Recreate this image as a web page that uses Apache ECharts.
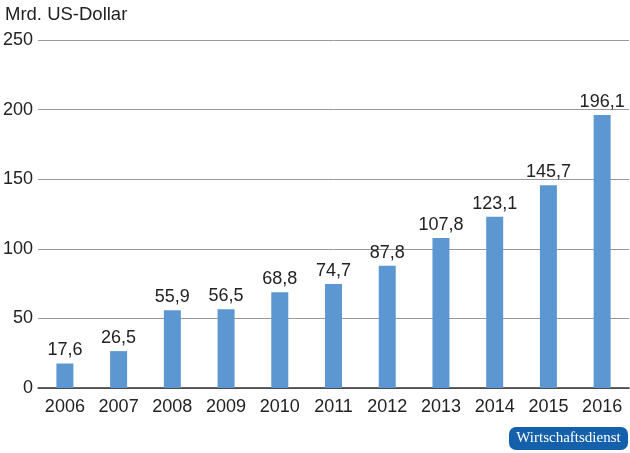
<!DOCTYPE html>
<html><head><meta charset="utf-8">
<script src="https://cdn.jsdelivr.net/npm/echarts@6/dist/echarts.min.js"></script>
<style>html,body{margin:0;padding:0;background:#fff}#c{width:630px;height:453px}</style>
</head><body><div id="c"></div>
<script>
const years = ['2006','2007','2008','2009','2010','2011','2012','2013','2014','2015','2016'];
const values = [17.6,26.5,55.9,56.5,68.8,74.7,87.8,107.8,123.1,145.7,196.1];
const yTicks = [0,50,100,150,200,250];
const unitLabel = 'Mrd. US-Dollar';
const sourceLabel = 'Wirtschaftsdienst';

const chart = echarts.init(document.getElementById('c'), null, {renderer:'canvas'});
const font = '"Liberation Sans", Arial, sans-serif';
chart.setOption({
  animation:false,
  grid:{left:38,right:1,top:40,bottom:65},
  title:{text:unitLabel,left:0,top:0,textStyle:{fontFamily:font,fontSize:18.5,fontWeight:'normal',color:'#222'}},
  xAxis:{type:'category',data:years,
    axisLine:{lineStyle:{color:'#333',width:1.5}},
    axisTick:{show:false},
    axisLabel:{fontFamily:font,fontSize:18,color:'#222',margin:10}},
  yAxis:{type:'value',min:yTicks[0],max:yTicks[yTicks.length-1],interval:50,
    axisLine:{show:false},axisTick:{show:false},
    splitLine:{lineStyle:{color:'#999',width:1}},
    axisLabel:{fontFamily:font,fontSize:18,color:'#222',margin:5,verticalAlign:'middle'}},
  series:[{type:'bar',data:values,barWidth:17,
    itemStyle:{color:'#5d97d1'},
    label:{show:true,position:'top',distance:4,fontFamily:font,fontSize:18,color:'#222',
      formatter:p=>String(p.value).replace('.',',')}}],
  graphic:[{type:'group',right:2,bottom:3,children:[
    {type:'rect',shape:{x:0,y:0,width:119,height:23,r:7},style:{fill:'#1560ab'}},
    {type:'text',x:59.5,y:11.5,style:{text:sourceLabel,fill:'#fff',font:'15px "Liberation Serif", "DejaVu Serif", serif',textAlign:'center',textVerticalAlign:'middle'}}
  ]}]
});
</script></body></html>
